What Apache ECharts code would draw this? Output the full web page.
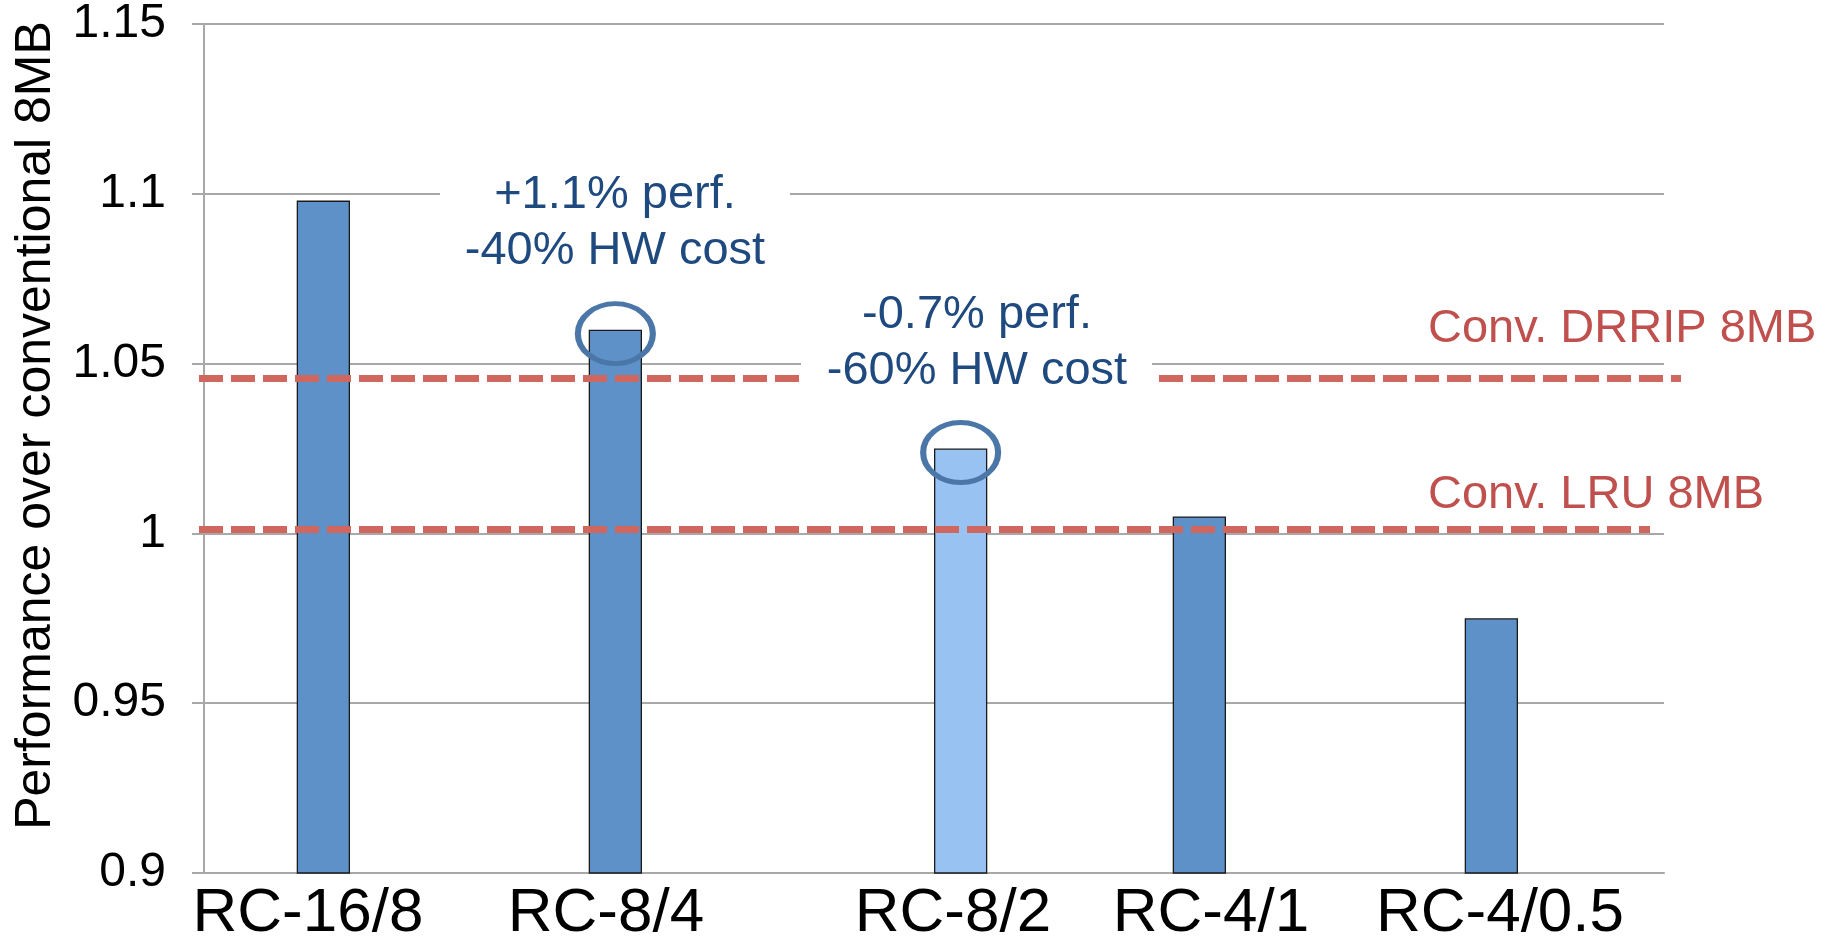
<!DOCTYPE html>
<html>
<head>
<meta charset="utf-8">
<script src="https://cdn.jsdelivr.net/npm/echarts@6/dist/echarts.min.js"></script>
<style>
  html, body { margin: 0; padding: 0; background: #ffffff; }
  #chart { width: 1843px; height: 942px; }
</style>
</head>
<body>
<div id="chart"></div>
<script>
// Cache configurations along the category axis
const categories = ['RC-16/8', 'RC-8/4', 'RC-8/2', 'RC-4/1', 'RC-4/0.5'];

// Four bar series per configuration (performance normalised to conventional 8MB)
const darkValues  = [0.9, 0.9, 0.9, 0.9, 0.9];
const midValues   = [1.098, 1.06, 0.9, 1.005, 0.975];
const lightValues = [0.9, 0.9, 1.025, 0.9, 0.9];
const paleValues  = [0.9, 0.9, 0.9, 0.9, 0.9];

// Value axis range and step
const yMin = 0.9;
const yMax = 1.15;
const yStep = 0.05;

// Reference levels of the conventional caches
const drripLevel = 1.0456;
const lruLevel = 1.0013;
const levelLabels = ['Conv. DRRIP 8MB', 'Conv. LRU 8MB'];

// Callout texts
const calloutA = ['+1.1% perf.', '-40% HW cost'];
const calloutB = ['-0.7% perf.', '-60% HW cost'];

// Horizontal nudge of each category label (px)
const labelShift = [-42, -36, 19, -15, -18];

const FONT = '"Liberation Sans", Arial, Helvetica, sans-serif';
const GRID_GRAY = '#A8A8A8';
const RED = '#C0504D';
const DASH_RED = '#D0675F';
const NAVY = '#1F4A7F';
const RING = '#4A77A8';

const chart = echarts.init(document.getElementById('chart'), null, { renderer: 'canvas' });

const rich = {};
labelShift.forEach((s, i) => {
  rich['s' + i] = {
    fontFamily: FONT,
    fontSize: 62,
    color: '#000',
    lineHeight: 62,
    padding: s < 0 ? [0, -2 * s, 0, 0] : [0, 0, 0, 2 * s]
  };
});

const barBase = {
  type: 'bar',
  barGap: '0%',
  barCategoryGap: '27%',
  barMinHeight: 3,
  itemStyle: { borderColor: '#1A1A1A', borderWidth: 1.3 }
};

const ring = {
  symbol: 'circle',
  symbolSize: [75, 60],
  symbolOffset: [0, 4],
  silent: true,
  label: { show: false },
  itemStyle: { color: 'rgba(255,255,255,0)', borderColor: RING, borderWidth: 5.5 }
};

chart.setOption({
  animation: false,
  backgroundColor: '#ffffff',
  grid: { left: 204, right: 179, top: 24, bottom: 69, outerBoundsMode: 'none' },
  xAxis: {
    type: 'category',
    data: categories,
    axisLine: { show: true, lineStyle: { color: GRID_GRAY, width: 2 } },
    axisTick: { show: false },
    axisLabel: {
      interval: 0,
      margin: 10,
      fontFamily: FONT,
      fontSize: 62,
      color: '#000',
      formatter: (v, i) => '{s' + i + '|' + v + '}',
      rich: rich
    }
  },
  yAxis: {
    type: 'value',
    min: yMin,
    max: yMax,
    interval: yStep,
    name: 'Performance over conventional 8MB',
    nameLocation: 'middle',
    nameRotate: 90,
    nameGap: 140,
    nameTextStyle: { fontFamily: FONT, fontSize: 50, color: '#000', padding: [0, 0, 0, 46] },
    axisLine: { show: true, lineStyle: { color: GRID_GRAY, width: 2 } },
    axisTick: { show: true, inside: false, length: 12, lineStyle: { color: GRID_GRAY, width: 2 } },
    splitLine: { show: true, lineStyle: { color: GRID_GRAY, width: 2 } },
    axisLabel: {
      margin: 38,
      fontFamily: FONT,
      fontSize: 48,
      color: '#000',
      formatter: v => String(Number(v.toFixed(2)))
    }
  },
  series: [
    Object.assign({}, barBase, { z: 3, data: darkValues, itemStyle: Object.assign({}, barBase.itemStyle, { color: '#3C6491' }) }),
    Object.assign({}, barBase, {
      z: 3,
      data: midValues,
      itemStyle: Object.assign({}, barBase.itemStyle, { color: '#5E91C8' }),
      markPoint: Object.assign({}, ring, { data: [{ coord: [categories[1], midValues[1]] }] })
    }),
    Object.assign({}, barBase, {
      z: 3,
      data: lightValues,
      itemStyle: Object.assign({}, barBase.itemStyle, { color: '#98C2F1' }),
      markPoint: Object.assign({}, ring, { data: [{ coord: [categories[2], lightValues[2]] }] })
    }),
    Object.assign({}, barBase, {
      z: 3,
      data: paleValues,
      itemStyle: Object.assign({}, barBase.itemStyle, { color: '#DCE6F2' }),
      markLine: {
        silent: true,
        z: 6,
        symbol: ['none', 'none'],
        label: { show: false },
        lineStyle: { color: DASH_RED, width: 7, type: [24, 8] },
        data: [
          [{ x: 199, yAxis: drripLevel }, { x: 1681, yAxis: drripLevel }],
          [{ x: 199, yAxis: lruLevel }, { x: 1650, yAxis: lruLevel }]
        ]
      }
    })
  ]
});

// Callouts and level labels placed over the plot
const yDrrip = chart.convertToPixel({ yAxisIndex: 0 }, drripLevel);
const yLru = chart.convertToPixel({ yAxisIndex: 0 }, lruLevel);

const textStyle = (txt, x, y, color, align) => ({
  text: txt,
  x: x,
  y: y,
  fill: color,
  font: '47px ' + FONT,
  align: align,
  verticalAlign: 'middle',
  lineHeight: 56
});

chart.setOption({
  graphic: [
    { type: 'rect', z: 100, silent: true, shape: { x: 440, y: 168, width: 350, height: 117 }, style: { fill: '#fff' } },
    { type: 'text', z: 101, silent: true, style: textStyle(calloutA.join('\n'), 615, 223, NAVY, 'center') },
    { type: 'rect', z: 100, silent: true, shape: { x: 801, y: 290, width: 351, height: 113 }, style: { fill: '#fff' } },
    { type: 'text', z: 101, silent: true, style: textStyle(calloutB.join('\n'), 977, 343, NAVY, 'center') },
    { type: 'text', z: 101, silent: true, style: textStyle(levelLabels[0], 1428, yDrrip - 49, RED, 'left') },
    { type: 'text', z: 101, silent: true, style: textStyle(levelLabels[1], 1428, yLru - 34, RED, 'left') }
  ]
});
</script>
</body>
</html>
